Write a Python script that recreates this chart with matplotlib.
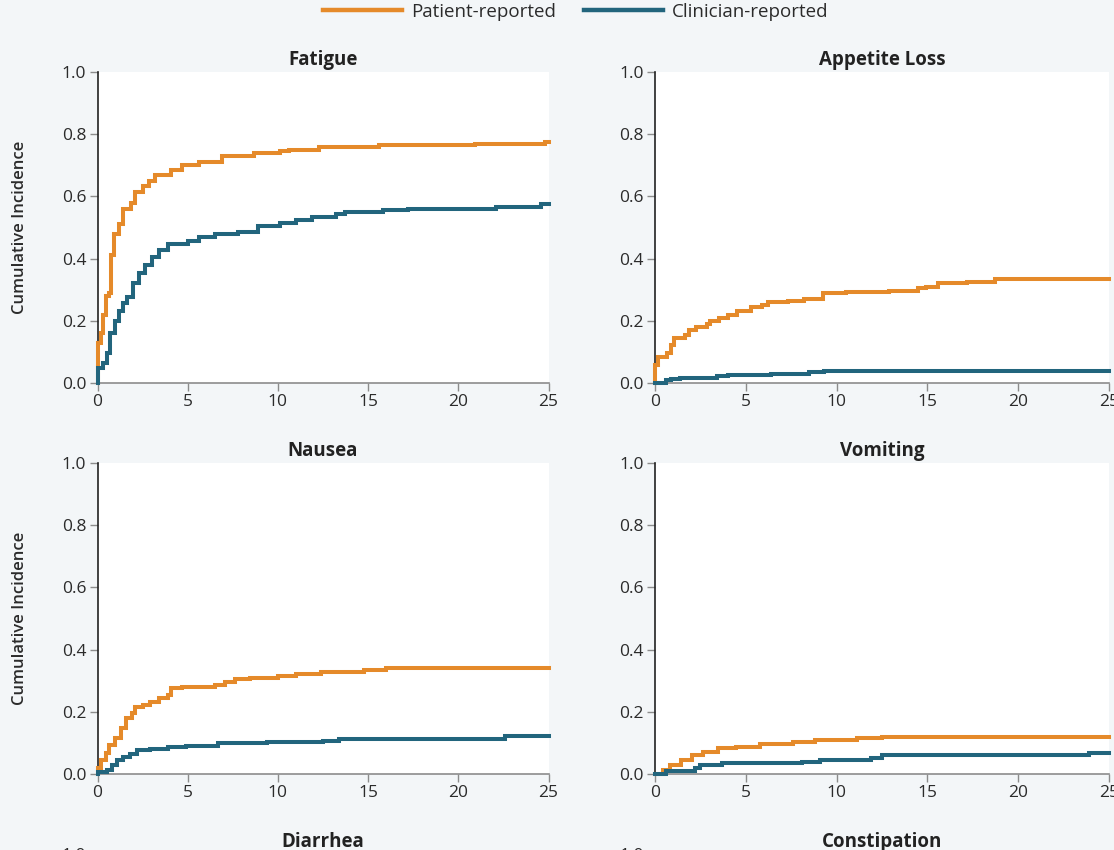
import matplotlib
matplotlib.use('Agg')
import matplotlib.pyplot as plt
import numpy as np
from matplotlib.lines import Line2D

plt.rcParams['font.family'] = ['Open Sans', 'DejaVu Sans']

categories = ['Fatigue', 'Appetite Loss', 'Nausea', 'Vomiting', 'Diarrhea', 'Constipation']
series_names = ['Patient-reported', 'Clinician-reported']
x_ticks = [0, 5, 10, 15, 20, 25]
y_ticks = [0.0, 0.2, 0.4, 0.6, 0.8, 1.0]
y_label = 'Cumulative Incidence'

fatigue_patient_t = [0, 0, 0.2, 0.3, 0.45, 0.65, 0.76, 0.94, 1.2, 1.4, 1.85, 2.1, 2.5, 2.85, 3.2,
                     4.1, 4.7, 5.6, 6.9, 8.7, 10.1, 10.6, 12.3, 15.6, 20.9, 24.8]
fatigue_patient_y = [0, 0.13, 0.16, 0.22, 0.28, 0.29, 0.41, 0.48, 0.51, 0.56, 0.58, 0.615, 0.635, 0.65, 0.67,
                     0.685, 0.70, 0.71, 0.73, 0.74, 0.746, 0.75, 0.76, 0.765, 0.77, 0.776]
fatigue_clin_t = [0, 0, 0.3, 0.5, 0.7, 0.95, 1.2, 1.4, 1.65, 1.95, 2.3, 2.65, 3.0, 3.4, 3.9, 5.0, 5.6,
                  6.5, 7.8, 8.9, 10.1, 11.0, 11.9, 13.2, 13.7, 15.8, 17.2, 22.1, 24.6]
fatigue_clin_y = [0, 0.048, 0.064, 0.096, 0.16, 0.20, 0.23, 0.256, 0.277, 0.32, 0.353, 0.38, 0.406, 0.428,
                  0.447, 0.455, 0.47, 0.48, 0.487, 0.505, 0.516, 0.524, 0.535, 0.543, 0.549, 0.556, 0.561,
                  0.565, 0.575]

appetite_patient_t = [0, 0, 0.18, 0.67, 0.87, 1.05, 1.65, 1.85, 2.25, 2.85, 3.05, 3.55, 4.0, 4.5, 5.3,
                      5.9, 6.2, 7.35, 8.2, 9.25, 10.5, 12.9, 14.5, 14.9, 15.6, 17.2, 18.7]
appetite_patient_y = [0, 0.058, 0.085, 0.095, 0.122, 0.145, 0.155, 0.17, 0.18, 0.19, 0.2, 0.21, 0.22,
                      0.233, 0.244, 0.25, 0.26, 0.265, 0.27, 0.29, 0.294, 0.297, 0.305, 0.31, 0.32,
                      0.325, 0.333]
appetite_clin_t = [0, 0.6, 0.9, 1.4, 3.4, 4.0, 6.4, 8.5, 9.3, 11.4]
appetite_clin_y = [0, 0.01, 0.014, 0.017, 0.022, 0.025, 0.03, 0.034, 0.037, 0.04]

nausea_patient_t = [0, 0, 0.2, 0.45, 0.65, 0.95, 1.3, 1.6, 1.9, 2.1, 2.5, 2.9, 3.4, 3.9, 4.1, 4.7,
                    6.5, 7.05, 7.6, 8.45, 10.0, 11.0, 12.4, 14.8, 16.0]
nausea_patient_y = [0, 0.018, 0.045, 0.066, 0.093, 0.115, 0.148, 0.18, 0.195, 0.216, 0.222, 0.233,
                    0.244, 0.255, 0.275, 0.28, 0.285, 0.296, 0.307, 0.31, 0.315, 0.323, 0.328, 0.334, 0.341]
nausea_clin_t = [0, 0, 0.5, 0.8, 1.1, 1.4, 1.8, 2.2, 2.9, 3.9, 4.9, 6.7, 9.4, 12.5, 13.4, 22.6]
nausea_clin_y = [0, 0.005, 0.013, 0.03, 0.044, 0.054, 0.065, 0.077, 0.079, 0.086, 0.09, 0.099,
                 0.103, 0.107, 0.112, 0.122]

vomiting_patient_t = [0, 0.45, 0.85, 1.45, 2.05, 2.65, 3.45, 4.45, 5.8, 7.6, 8.8, 11.1, 12.5]
vomiting_patient_y = [0, 0.013, 0.03, 0.045, 0.061, 0.072, 0.083, 0.088, 0.097, 0.104, 0.11, 0.115, 0.12]
vomiting_clin_t = [0, 0.6, 2.2, 2.5, 3.7, 8.1, 9.1, 11.9, 12.5, 23.9]
vomiting_clin_y = [0, 0.01, 0.018, 0.029, 0.034, 0.04, 0.045, 0.05, 0.061, 0.068]

panel_data = {
    'Fatigue': ((fatigue_patient_t, fatigue_patient_y), (fatigue_clin_t, fatigue_clin_y)),
    'Appetite Loss': ((appetite_patient_t, appetite_patient_y), (appetite_clin_t, appetite_clin_y)),
    'Nausea': ((nausea_patient_t, nausea_patient_y), (nausea_clin_t, nausea_clin_y)),
    'Vomiting': ((vomiting_patient_t, vomiting_patient_y), (vomiting_clin_t, vomiting_clin_y)),
}

ORANGE = '#e58a2a'
TEAL = '#22657d'
BG = '#f3f6f8'
colors = [ORANGE, TEAL]

W, H = 1114, 850
fig = plt.figure(figsize=(W / 100, H / 100), dpi=100, facecolor=BG)

col_left = [97.5, 655]
col_width = [451, 454]
row_top = [72, 463, 854]
ax_h = 311

for i, name in enumerate(categories):
    r, c = divmod(i, 2)
    left = col_left[c] / W
    bottom = 1 - (row_top[r] + ax_h) / H
    ax = fig.add_axes([left, bottom, col_width[c] / W, ax_h / H])
    ax.set_facecolor('white')
    ax.set_xlim(0, 25)
    ax.set_ylim(0, 1)
    ax.set_xticks(x_ticks)
    ax.set_xticklabels([str(v) for v in x_ticks])
    ax.set_yticks(y_ticks)
    ax.set_yticklabels([f'{v:.1f}' for v in y_ticks])
    for s in ['top', 'right']:
        ax.spines[s].set_visible(False)
    ax.spines['left'].set_color('#222222')
    ax.spines['left'].set_linewidth(1.2)
    ax.spines['bottom'].set_color('#8c8c8c')
    ax.spines['bottom'].set_linewidth(1.2)
    ax.tick_params(axis='both', direction='out', length=6, width=1, color='#8c8c8c',
                   labelsize=12.5, labelcolor='#2b2b2b', pad=2)
    ax.set_title(name, fontsize=13.5, fontweight='bold', color='#222222', pad=5)
    if c == 0:
        ax.set_ylabel(y_label, fontsize=12, fontweight='semibold', color='#2b2b2b')
        ax.yaxis.set_label_coords(-0.155, 0.5)
    if name in panel_data:
        for (t, y), col in zip(panel_data[name], colors):
            tt = list(t) + [25]
            yy = list(y) + [y[-1]]
            ax.step(tt, yy, where='post', color=col, lw=2.9, solid_joinstyle='miter',
                    clip_on=False, zorder=3)

handles = [Line2D([0], [0], color=ORANGE, lw=3.2), Line2D([0], [0], color=TEAL, lw=3.2)]
fig.legend(handles, series_names, loc='center', bbox_to_anchor=(0.517, 1 - 12 / H), ncol=2,
           frameon=False, fontsize=13.5, handlelength=4.2, handletextpad=0.5, columnspacing=1.5,
           labelcolor='#2b2b2b')

fig.savefig('out.png', dpi=100, facecolor=BG)
